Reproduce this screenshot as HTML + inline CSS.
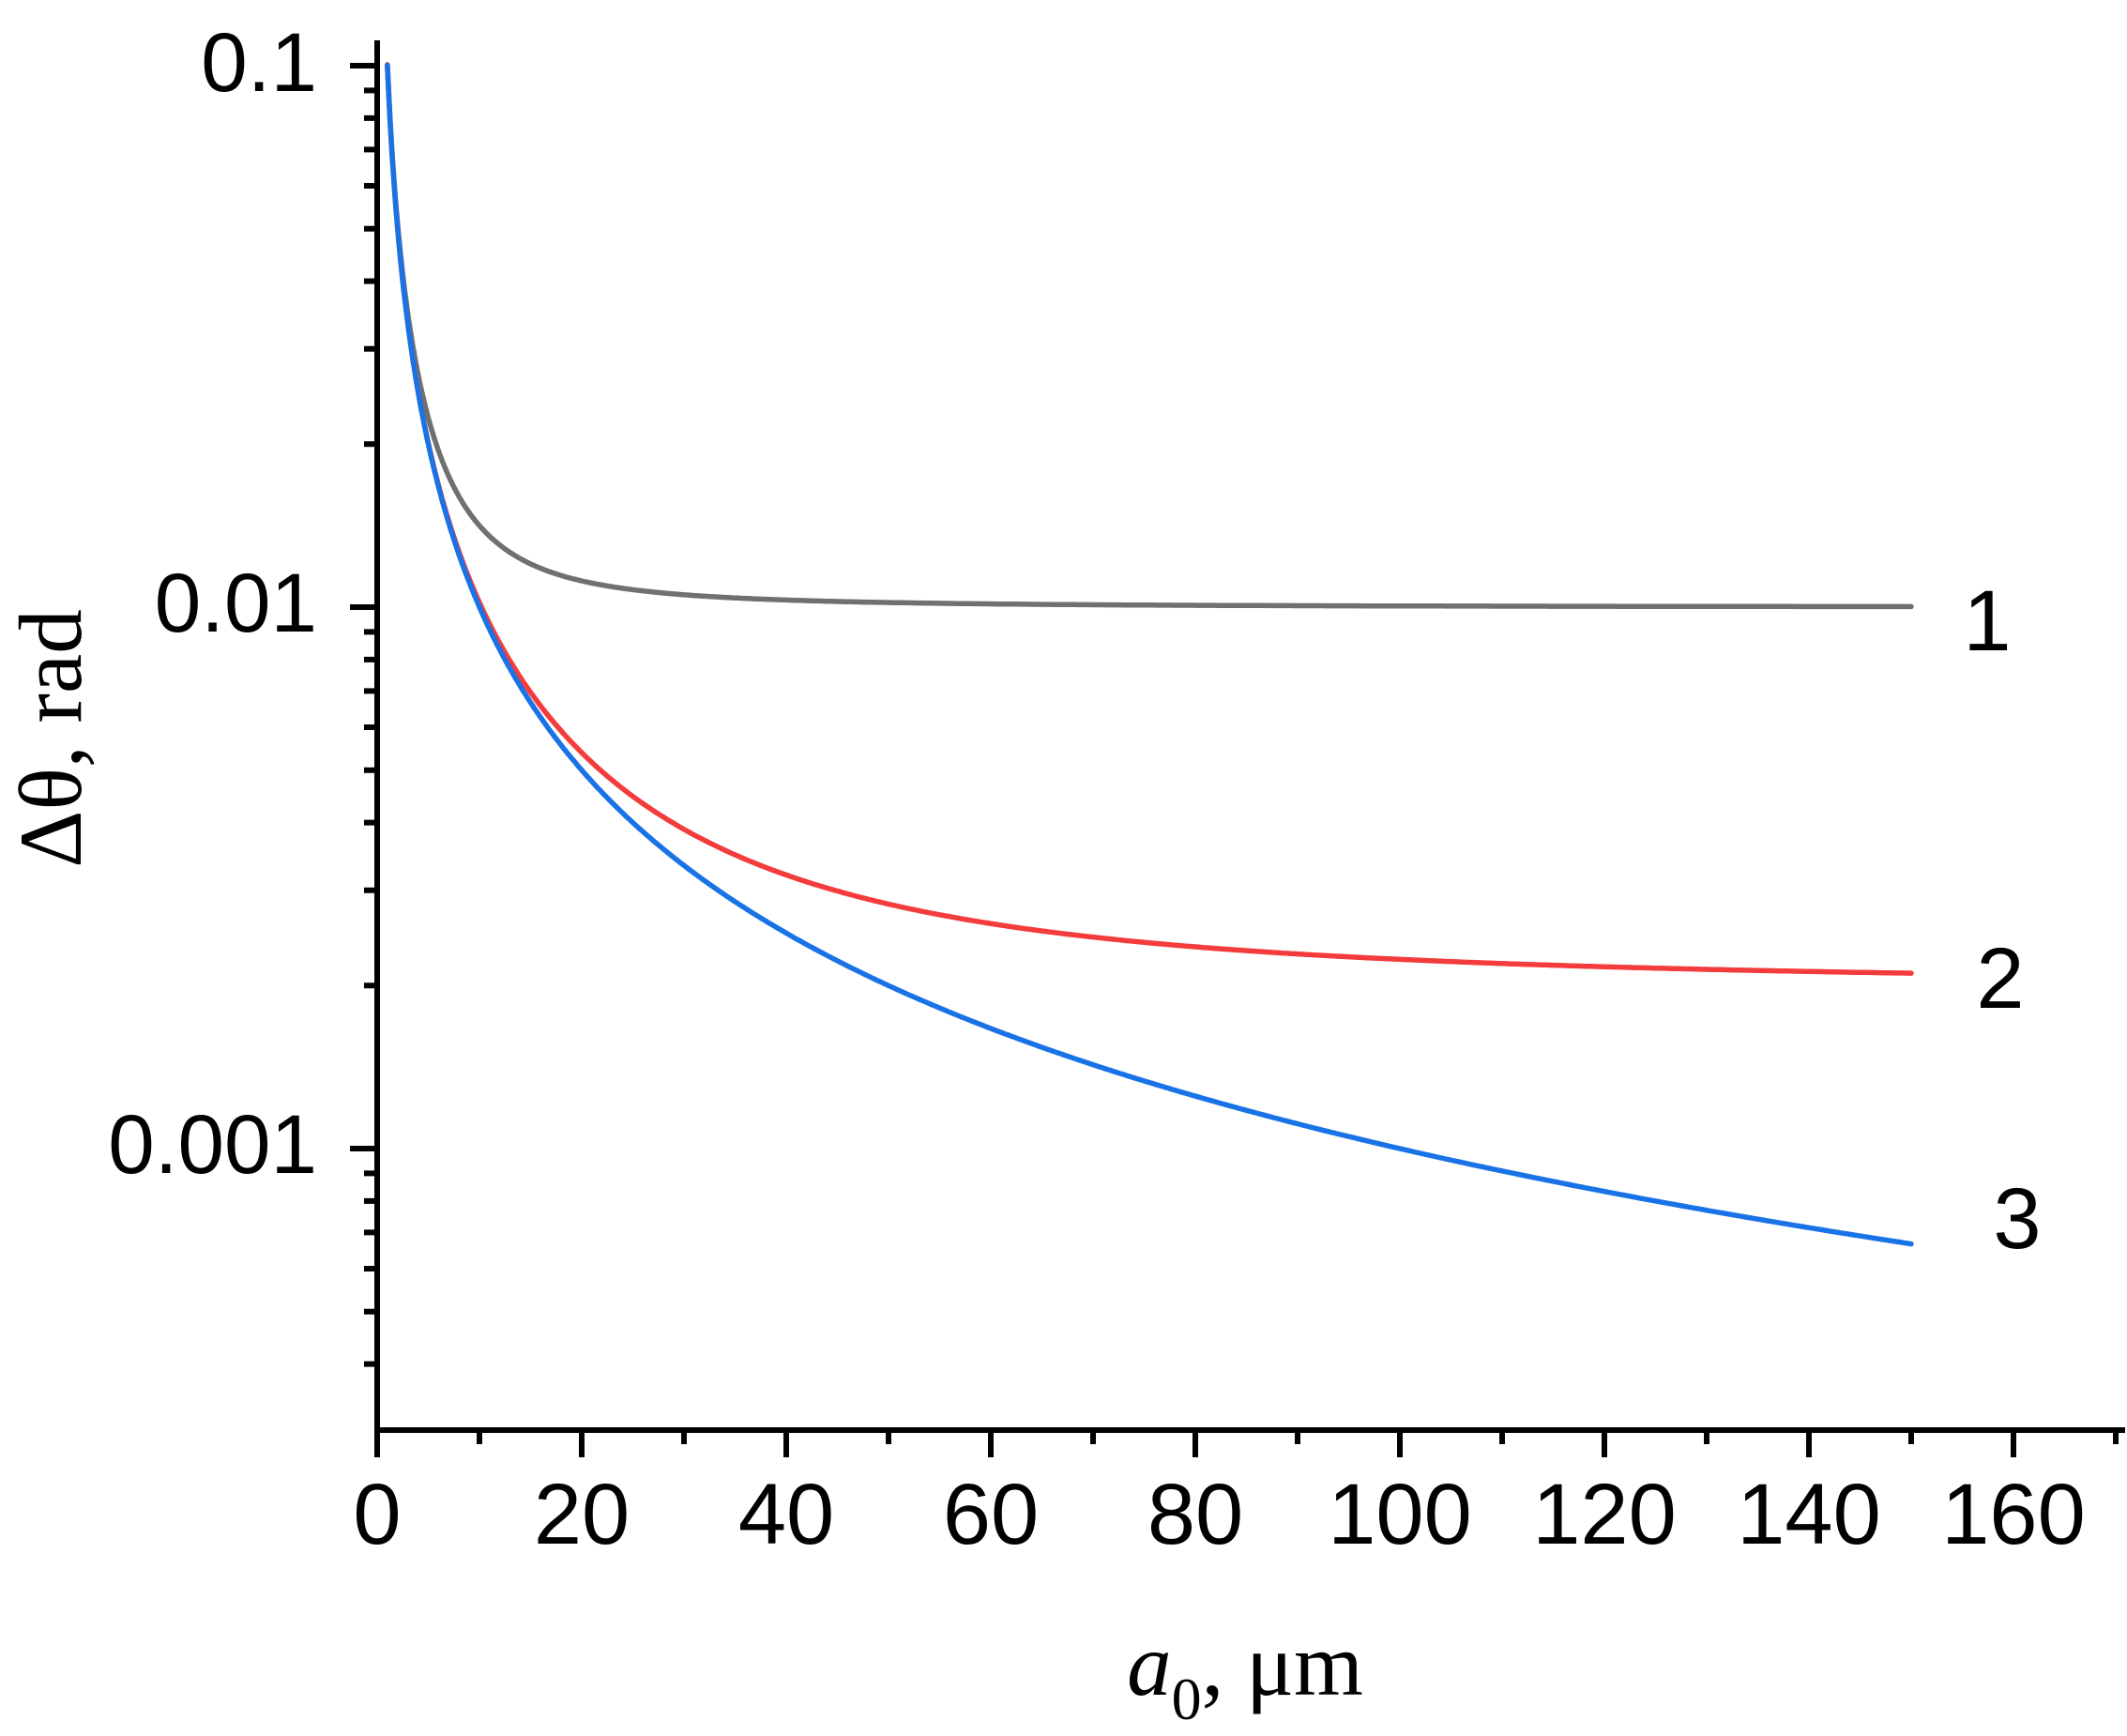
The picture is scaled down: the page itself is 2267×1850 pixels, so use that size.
<!DOCTYPE html>
<html><head><meta charset="utf-8"><style>
html,body{margin:0;padding:0;background:#fff;}
svg{display:block;}
text{font-family:"Liberation Sans",sans-serif;fill:#000;}
</style></head><body>
<svg id="s" width="2267" height="1850" xmlns="http://www.w3.org/2000/svg">
<g id="ax" stroke="#000" stroke-width="6" fill="none"></g>
<g id="cv" fill="none" stroke-width="5.5" stroke-linejoin="round" stroke-linecap="round"></g>
<g font-size="89">
<text x="338" y="97" text-anchor="end">0.1</text>
<text x="338" y="673" text-anchor="end">0.01</text>
<text x="338" y="1250" text-anchor="end">0.001</text>
</g>
<g id="xl" font-size="92" text-anchor="middle"></g>
<g font-size="92">
<text x="2118" y="693" text-anchor="middle">1</text>
<text x="2132" y="1074" text-anchor="middle">2</text>
<text x="2150" y="1330" text-anchor="middle">3</text>
</g>
<text transform="translate(86,787) rotate(-90)" text-anchor="middle" font-size="95" style="font-family:'Liberation Serif',serif">Δθ, rad</text>
<text x="1327" y="1806" text-anchor="middle" font-size="95" style="font-family:'Liberation Serif',serif"><tspan font-style="italic">a</tspan><tspan font-size="64" dy="26">0</tspan><tspan dy="-26">, μm</tspan></text>
</svg>
<script>
var X0=402,S=10.9,Y1=70,D=577,YB=1524;
function px(x){return X0+x*S;}
function py(v){return Y1+(-1-Math.log10(v))*D;}
var ns="http://www.w3.org/2000/svg";
var ax=document.getElementById('ax'),d="";
d+="M"+X0+" 43 L"+X0+" "+(YB+3)+" M"+(X0-3)+" "+YB+" L2265 "+YB;
for(var k=0;k<=17;k++){var x=px(k*10);if(x>2262)break;d+=" M"+x+" "+YB+" L"+x+" "+(YB+(k%2==0?29:15));}
for(var e=-1;e>=-4;e--){for(var m=1;m<=9;m++){var v=m*Math.pow(10,e);var y=py(v);if(y>YB||y<40)continue;d+=" M"+X0+" "+y+" L"+(X0-(m==1?29:14))+" "+y;}}
var p=document.createElementNS(ns,'path');p.setAttribute('d',d);ax.appendChild(p);
var xl=document.getElementById('xl');
for(var k=0;k<=160;k+=20){var t=document.createElementNS(ns,'text');t.setAttribute('x',px(k));t.setAttribute('y',1645);t.textContent=k;xl.appendChild(t);}
var cv=document.getElementById('cv');
[[0.01,'#707070'],[0.002,'#f43c3c'],[0,'#1a73e6']].forEach(function(c){
var s="";for(var i=0;i<=600;i++){var x=1+149*Math.pow(i/600,2);var v=Math.sqrt(c[0]*c[0]+Math.pow(0.1/x,2));s+=(i?"L":"M")+px(x).toFixed(1)+" "+py(v).toFixed(1)+" ";}
var q=document.createElementNS(ns,'path');q.setAttribute('d',s);q.setAttribute('stroke',c[1]);cv.appendChild(q);});
</script>
</body></html>
